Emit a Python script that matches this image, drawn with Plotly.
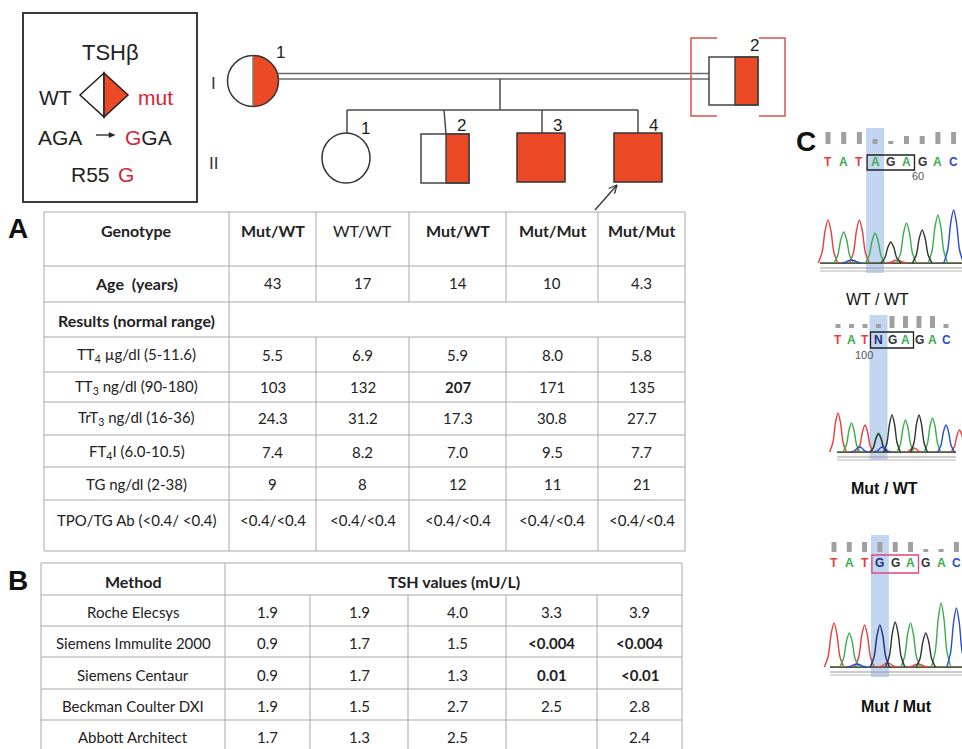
import math
import plotly.graph_objects as go

W, H = 962, 749

# ---------------- data ----------------
genotypes = ["Mut/WT", "WT/WT", "Mut/WT", "Mut/Mut", "Mut/Mut"]
ages = ["43", "17", "14", "10", "4.3"]
lab_tests = ["TT<sub>4</sub> µg/dl (5-11.6)", "TT<sub>3</sub> ng/dl (90-180)",
             "TrT<sub>3</sub> ng/dl (16-36)", "FT<sub>4</sub>I (6.0-10.5)",
             "TG ng/dl (2-38)", "TPO/TG Ab (&lt;0.4/ &lt;0.4)"]
tt4 = ["5.5", "6.9", "5.9", "8.0", "5.8"]
tt3 = ["103", "132", "207", "171", "135"]
trt3 = ["24.3", "31.2", "17.3", "30.8", "27.7"]
ft4i = ["7.4", "8.2", "7.0", "9.5", "7.7"]
tg = ["9", "8", "12", "11", "21"]
tpo_tg = ["<0.4/<0.4"] * 5
lab_values = [tt4, tt3, trt3, ft4i, tg, tpo_tg]
lab_bold = {(1, 2)}

methods = ["Roche Elecsys", "Siemens Immulite 2000", "Siemens Centaur",
           "Beckman Coulter DXI", "Abbott Architect"]
tsh_roche = ["1.9", "1.9", "4.0", "3.3", "3.9"]
tsh_immulite = ["0.9", "1.7", "1.5", "<0.004", "<0.004"]
tsh_centaur = ["0.9", "1.7", "1.3", "0.01", "<0.01"]
tsh_beckman = ["1.9", "1.5", "2.7", "2.5", "2.8"]
tsh_abbott = ["1.7", "1.3", "2.5", "", "2.4"]
tsh_values = [tsh_roche, tsh_immulite, tsh_centaur, tsh_beckman, tsh_abbott]
tsh_bold = {(1, 3), (1, 4), (2, 3), (2, 4)}

# sequencing traces: called bases, peak heights, quality bars
chrom_bases = ["TATAGAGAC", "TATNGAGAC", "TATGGAGAC"]
chrom_heights = [[43, 31, 43, 30, 21, 40, 33, 48, 53],
                 [39, 29, 27, 19, 37, 32, 37, 34, 27],
                 [44, 34, 42, 42, 45, 44, 34, 64, 59]]
chrom_quality = [[12, 12, 12, 5, 3, 8, 8, 12, 12],
                 [4, 4, 4, 4, 12, 12, 12, 12, 4],
                 [10, 10, 10, 10, 10, 10, 3, 3, 10]]
chrom_labels = ["WT / WT", "<b>Mut / WT</b>", "<b>Mut / Mut</b>"]
# extra (overlapping / minor) peaks: panel, base position, channel, height
extra_peaks = [(1, 3.0, "G", 18), (1, 9.0, "T", 22), (1, 1.6, "C", 5),
               (1, 3.3, "C", 5), (1, 5.6, "T", 4), (0, 4.4, "T", 3),
               (2, 3.5, "T", 4), (2, 5.5, "T", 3), (0, 1.5, "C", 3), (2, 1.5, "C", 3)]

# ---------------- styles ----------------
RED = "#EC4A26"
TXT = "#222222"
GRID = "#A9A9A9"
LINE = "#4a4a4a"
TFONT = "Lato"
ARIAL = "Liberation Sans, Arial"
base_color = {"T": "#E5403E", "A": "#3AAE4B", "G": "#333333", "C": "#2A4BD0", "N": "#1d2f7a"}

shapes, annotations = [], []


def text(x, y, s, size=15, color=TXT, family=TFONT, xanchor="center"):
    if not s:
        return
    annotations.append(dict(x=x, y=y, xref="x", yref="y", text=s, showarrow=False,
                            xanchor=xanchor, yanchor="middle",
                            font=dict(family=family, size=size, color=color)))


def line(x0, y0, x1, y1, color=LINE, width=1.5, layer="above"):
    shapes.append(dict(type="line", x0=x0, y0=y0, x1=x1, y1=y1, xref="x", yref="y",
                       line=dict(color=color, width=width), layer=layer))


def rect(x0, y0, x1, y1, fill="rgba(0,0,0,0)", color=LINE, width=1.5, layer="above"):
    shapes.append(dict(type="rect", x0=x0, y0=y0, x1=x1, y1=y1, xref="x", yref="y",
                       fillcolor=fill, line=dict(color=color, width=width), layer=layer))


def path(d, fill="rgba(0,0,0,0)", color=LINE, width=1.5, layer="above"):
    shapes.append(dict(type="path", path=d, xref="x", yref="y", fillcolor=fill,
                       line=dict(color=color, width=width), layer=layer))


def esc(s):
    return s.replace("<", "&lt;")


# ---------------- legend box ----------------
rect(23, 13, 197, 202, color="#3a3a3a", width=2)
text(110, 52, "TSHβ", size=22, family=ARIAL)
text(55, 97, "WT", size=21, family=ARIAL)
text(155, 97, "mut", size=21, color="#D2263A", family=ARIAL)
path("M 104,73 L 80,95 L 104,117 Z", fill="white", color="#222", width=1.5)
path("M 104,73 L 128,95 L 104,117 Z", fill=RED, color="#222", width=1.5)
text(60, 137, "AGA", size=21, family=ARIAL)
line(96, 135, 111, 135, color="#222", width=1.3)
path("M 115,135 L 109,132.5 L 109,137.5 Z", fill="#222", color="#222", width=0.5)
text(148, 137, "<span style='color:#D2263A'>G</span>GA", size=21, family=ARIAL)
text(90, 174, "R55", size=21, family=ARIAL)
text(126, 174, "G", size=21, color="#D2263A", family=ARIAL)

# generation numerals
text(213, 83, "I", size=17, color="#333", family=ARIAL)
text(213, 163, "II", size=17, color="#333", family=ARIAL)

# ---------------- pedigree ----------------
cx, cy, r = 253, 81, 25.5
pts = [(cx + r * math.cos(math.radians(a)), cy + r * math.sin(math.radians(a)))
       for a in range(-90, 91, 6)]
path("M " + " L ".join(f"{px:.2f},{py:.2f}" for px, py in pts) + " Z", fill=RED, color=RED, width=0.5)
shapes.append(dict(type="circle", x0=cx - r, y0=cy - r, x1=cx + r, y1=cy + r, xref="x", yref="y",
                   line=dict(color="#333", width=1.5)))
line(cx, cy - r, cx, cy + r, color="#777", width=1.2)
text(280, 52, "1", size=17, family=ARIAL)

# marriage line (double) and I-2
line(278, 73.5, 709, 73.5, color="#6a6a6a", width=1.3)
line(278, 79, 709, 79, color="#6a6a6a", width=1.3)
rect(735, 57, 758, 105, fill=RED, color="#333", width=1.3)
rect(709, 57, 758, 105, color="#444", width=1.5)
text(754, 45, "2", size=17, family=ARIAL)
path("M 717,38 L 691,38 L 691,116 L 717,116", color="#D9534F", width=1.5)
path("M 759,38 L 785,38 L 785,116 L 759,116", color="#D9534F", width=1.5)

# descent and sibship
line(500, 79, 500, 110)
line(347, 110, 638, 110)
line(347, 110, 347, 133)
line(444, 110, 446, 134)
line(542, 110, 542, 133)
line(638, 110, 638, 133)

# II-1
shapes.append(dict(type="circle", x0=322, y0=133, x1=370, y1=183, xref="x", yref="y",
                   line=dict(color="#333", width=1.5)))
text(365, 128, "1", size=17, family=ARIAL)
# II-2
rect(446, 134, 469, 183, fill=RED, color="#333", width=1.3)
rect(421, 134, 469, 183, color="#444", width=1.5)
text(461, 125, "2", size=17, family=ARIAL)
# II-3
rect(517, 133, 565, 182, fill=RED, color="#333", width=1.5)
text(557, 125, "3", size=17, family=ARIAL)
# II-4 (proband)
rect(614, 133, 662, 182, fill=RED, color="#333", width=1.5)
text(653, 125, "4", size=17, family=ARIAL)
tipx, tipy, tailx, taily = 617, 185, 595, 210
line(tailx, taily, tipx, tipy, color="#333", width=1.3)
ang = math.atan2(taily - tipy, tailx - tipx)
for d in (0.45, -0.45):
    line(tipx, tipy, tipx + 9 * math.cos(ang + d), tipy + 9 * math.sin(ang + d), color="#333", width=1.3)

# ---------------- table A ----------------
text(18, 228, "<b>A</b>", size=28, color="#111", family=ARIAL)
ax_cols = [44, 229, 316, 409, 506, 598, 685]
ay_rows = [212, 266, 302, 337, 372, 402, 435, 467, 500, 551]
for yv in ay_rows:
    line(ax_cols[0], yv, ax_cols[-1], yv, color=GRID, width=1)
line(ax_cols[0], ay_rows[0], ax_cols[0], ay_rows[-1], color=GRID, width=1)
line(ax_cols[-1], ay_rows[0], ax_cols[-1], ay_rows[-1], color=GRID, width=1)
line(ax_cols[1], ay_rows[0], ax_cols[1], ay_rows[-1], color=GRID, width=1)
for xv in ax_cols[2:-1]:
    line(xv, ay_rows[0], xv, ay_rows[2], color=GRID, width=1)
    line(xv, ay_rows[3], xv, ay_rows[-1], color=GRID, width=1)
a_centers = [(ax_cols[i] + ax_cols[i + 1]) / 2 for i in range(6)]
text(a_centers[0], 230, "<b>Genotype</b>", size=16)
for i, g in enumerate(genotypes):
    text(a_centers[i + 1], 230, g if g == "WT/WT" else f"<b>{g}</b>", size=16)
text(a_centers[0], 283, "<b>Age  (years)</b>", size=16)
for i, a in enumerate(ages):
    text(a_centers[i + 1], 283, a)
text(a_centers[0], 320, "<b>Results (normal range)</b>", size=16)
lab_y = [355, 387, 418, 452, 484, 520]
for r_i, (name, vals) in enumerate(zip(lab_tests, lab_values)):
    text(a_centers[0], lab_y[r_i], name)
    for c_i, v in enumerate(vals):
        s = esc(v)
        text(a_centers[c_i + 1], lab_y[r_i], f"<b>{s}</b>" if (r_i, c_i) in lab_bold else s)

# ---------------- table B ----------------
text(18, 580, "<b>B</b>", size=28, color="#111", family=ARIAL)
bx_cols = [41, 225, 310, 408, 506, 597, 682]
by_rows = [563, 595, 626, 657, 689, 720]
for yv in by_rows:
    line(bx_cols[0], yv, bx_cols[-1], yv, color=GRID, width=1)
for xv in (bx_cols[0], bx_cols[1], bx_cols[-1]):
    line(xv, by_rows[0], xv, H + 2, color=GRID, width=1)
for xv in bx_cols[2:-1]:
    line(xv, by_rows[1], xv, H + 2, color=GRID, width=1)
b_centers = [(bx_cols[i] + bx_cols[i + 1]) / 2 for i in range(6)]
text(b_centers[0], 581, "<b>Method</b>", size=16)
text((bx_cols[1] + bx_cols[-1]) / 2, 581, "<b>TSH values (mU/L)</b>", size=16)
tsh_y = [612, 643, 675, 706, 737]
for r_i, (m, vals) in enumerate(zip(methods, tsh_values)):
    text(b_centers[0], tsh_y[r_i], m)
    for c_i, v in enumerate(vals):
        s = esc(v)
        text(b_centers[c_i + 1], tsh_y[r_i], f"<b>{s}</b>" if (r_i, c_i) in tsh_bold else s)

# ---------------- panel C: chromatograms ----------------
text(806, 141, "<b>C</b>", size=28, color="#111", family=ARIAL)
panels = [
    dict(x0=828, step=15.7, base=263, w=9.8, qbar=144, letters=162, box=(155, 170), box_color="#222",
         band=(128, 273), gray=(820, 962), label=(877, 299), num=("60", 918, 176)),
    dict(x0=838, step=13.5, base=452, w=8.4, qbar=328, letters=340, box=(332, 348), box_color="#222",
         band=(315, 460), gray=(837, 956), label=(884, 488), num=("100", 864, 355)),
    dict(x0=834, step=15.3, base=667, w=9.6, qbar=552, letters=563, box=(555, 573), box_color="#E0457B",
         band=(535, 677), gray=(830, 962), label=(896, 706), num=None),
]
# peak outline profile: (fraction of half-width, fraction of height)
profile = [(-1.0, 0.0), (-0.6, 0.25), (-0.3, 0.75), (0.0, 1.0), (0.3, 0.75), (0.6, 0.25), (1.0, 0.0)]
traces = []
for p_i, p in enumerate(panels):
    xs = [p["x0"] + i * p["step"] for i in range(len(chrom_bases[p_i]))]
    # highlighted position
    shapes.append(dict(type="rect", x0=xs[3] - 9, x1=xs[3] + 9, y0=p["band"][0], y1=p["band"][1],
                       xref="x", yref="y", fillcolor="rgba(120,165,225,0.45)", line=dict(width=0),
                       layer="below"))
    # quality bars and base calls
    for i, (b, q) in enumerate(zip(chrom_bases[p_i], chrom_quality[p_i])):
        rect(xs[i] - 2.5, p["qbar"] - q, xs[i] + 2.5, p["qbar"], fill="#A0A0A0", color="#A0A0A0", width=0)
        col = base_color[b]
        if i == 3 and p_i > 0:
            col = base_color["N"]
        text(xs[i], p["letters"], f"<b>{b}</b>", size=12, color=col, family=ARIAL)
    rect(xs[3] - 8, p["box"][0], xs[5] + 8, p["box"][1], color=p["box_color"], width=1.3)
    if p["num"]:
        text(p["num"][1], p["num"][2], p["num"][0], size=11, color="#555", family=ARIAL)
    # baseline rails
    line(p["gray"][0], p["base"] + 5, p["gray"][1], p["base"] + 5, color="#9a9a9a", width=1.2)
    line(p["gray"][0], p["base"] + 8, p["gray"][1], p["base"] + 8, color="#b5b5b5", width=1.2)
    # peaks grouped by channel
    peaks = {ch: [] for ch in "TAGCN"}
    for i, (b, h) in enumerate(zip(chrom_bases[p_i], chrom_heights[p_i])):
        ch = b
        if b == "N":
            ch = "A"
        if i == 3 and p_i == 2:
            ch = "N"
        peaks[ch].append((xs[i], h))
    for (pp, pos, ch, h) in extra_peaks:
        if pp == p_i:
            peaks[ch].append((p["x0"] + pos * p["step"], h))
    for ch in "CTAG":
        traces.append(go.Scatter(x=[p["gray"][0], p["gray"][1]], y=[p["base"] + (0.5 if ch in "CT" else 0)] * 2,
                                 mode="lines", hoverinfo="skip", showlegend=False,
                                 line=dict(color=base_color[ch], width=1.2)))
    for ch, plist in peaks.items():
        if not plist:
            continue
        plist.sort()
        px, py = [], []
        w = p["w"]
        for (xc, h) in plist:
            for fx, fy in profile:
                px.append(xc + fx * w)
                py.append(p["base"] - fy * h)
            px.append(None)
            py.append(None)
        traces.append(go.Scatter(x=px, y=py, mode="lines", hoverinfo="skip", showlegend=False,
                                 connectgaps=False,
                                 line=dict(color=base_color[ch], width=1.4, shape="spline", smoothing=0.8)))
    text(p["label"][0], p["label"][1], chrom_labels[p_i], size=16, color="#111", family=ARIAL)

fig = go.Figure(traces)
fig.update_layout(
    width=W, height=H, margin=dict(l=0, r=0, t=0, b=0),
    paper_bgcolor="white", plot_bgcolor="white",
    xaxis=dict(range=[0, W], visible=False, fixedrange=True),
    yaxis=dict(range=[H, 0], visible=False, fixedrange=True),
    shapes=shapes, annotations=annotations,
)
fig.write_html("out.html")
